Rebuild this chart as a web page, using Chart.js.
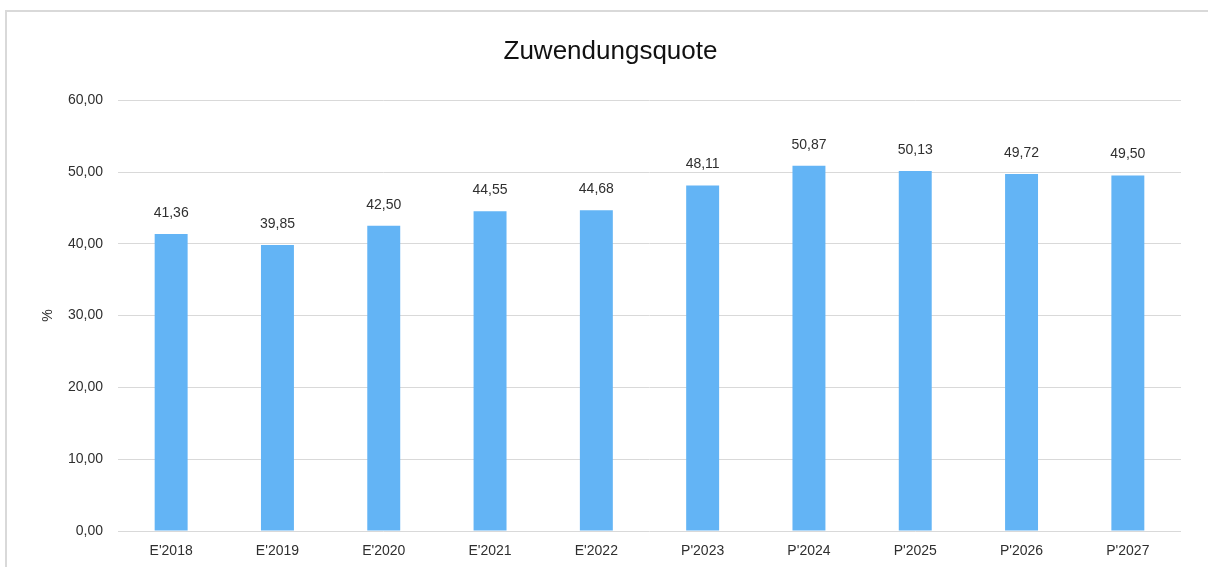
<!DOCTYPE html>
<html>
<head>
<meta charset="utf-8">
<script src="https://cdn.jsdelivr.net/npm/chart.js@4/dist/chart.umd.min.js"></script>
<style>
  html, body { margin:0; padding:0; background:#fff; overflow:hidden; }
  #wrap { position:relative; width:1208px; height:567px; }
</style>
</head>
<body>
<div id="wrap"><canvas id="chart"></canvas></div>
<script>
// ---- Daten ----
const labels = ["E'2018","E'2019","E'2020","E'2021","E'2022","P'2023","P'2024","P'2025","P'2026","P'2027"];
const quote  = [41.36, 39.85, 42.50, 44.55, 44.68, 48.11, 50.87, 50.13, 49.72, 49.50];
const yTicks = [0, 10, 20, 30, 40, 50, 60];

const fmt = v => v.toFixed(2).replace('.', ',');
const FONT = "'Liberation Sans', Arial, sans-serif";
const TXT = '#2f2f2f';

// ---- Rahmen + Werte über den Balken ----
const framePlugin = {
  id:'frame',
  beforeDraw(chart) {
    const ctx = chart.ctx;
    ctx.save();
    ctx.strokeStyle = '#d9d9d9';
    ctx.lineWidth = 2;
    ctx.beginPath();
    ctx.moveTo(6, 600);
    ctx.lineTo(6, 11);
    ctx.lineTo(1220, 11);
    ctx.stroke();
    ctx.restore();
  }
};

const valuePlugin = {
  id:'values',
  afterDatasetsDraw(chart) {
    const ctx = chart.ctx;
    const meta = chart.getDatasetMeta(0);
    ctx.save();
    ctx.font = '14px ' + FONT;
    ctx.fillStyle = TXT;
    ctx.textAlign = 'center';
    ctx.textBaseline = 'middle';
    meta.data.forEach((bar, i) => {
      ctx.fillText(fmt(quote[i]), bar.x, bar.y - 21);
    });
    ctx.restore();
  }
};

new Chart(document.getElementById('chart'), {
  type:'bar',
  data:{
    labels:labels,
    datasets:[{ data:quote, backgroundColor:'#63b4f5', barPercentage:0.31, categoryPercentage:1 }]
  },
  options:{
    responsive:true,
    maintainAspectRatio:false,
    animation:false,
    layout:{ padding:{ left:40, right:27, top:0, bottom:0 } },
    plugins:{
      legend:{ display:false },
      tooltip:{ enabled:false },
      title:{
        display:true,
        text:'Zuwendungsquote',
        color:'#111',
        font:{ family:FONT, size:26, weight:'normal' },
        padding:{ top:36, bottom:33 }
      }
    },
    scales:{
      x:{
        grid:{ display:false, drawTicks:false },
        border:{ display:false },
        ticks:{ color:TXT, font:{ family:FONT, size:14 }, padding:12, maxRotation:0 },
        afterFit(scale) { scale.height = 36; }
      },
      y:{
        min:0, max:60,
        afterBuildTicks(scale) { scale.ticks = yTicks.map(v => ({ value:v })); },
        grid:{ color:'#d9d9d9', lineWidth:1, drawTicks:false },
        border:{ display:false },
        ticks:{ color:TXT, font:{ family:FONT, size:14 }, padding:15, callback:v => fmt(v) },
        title:{ display:true, text:'%', color:TXT, font:{ family:FONT, size:14 }, padding:0 },
        afterFit(scale) { scale.width = 78; }
      }
    }
  },
  plugins:[framePlugin, valuePlugin]
});
</script>
</body>
</html>
